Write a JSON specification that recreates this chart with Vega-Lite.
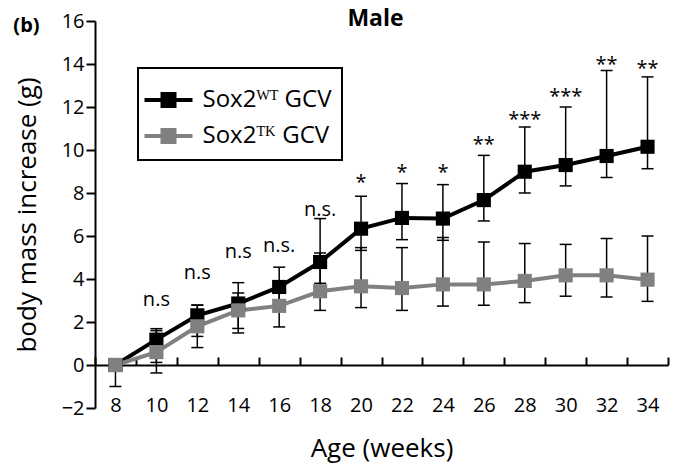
{
  "$schema": "https://vega.github.io/schema/vega-lite/v6.json",
  "width": 573,
  "height": 387,
  "autosize": {"type": "none"},
  "padding": {"left": 95, "top": 21, "right": 9, "bottom": 63},
  "background": "white",
  "title": {"text": "Male", "font": "Open Sans", "fontSize": 23, "fontWeight": "bold", "color": "black", "offset": -38, "baseline": "alphabetic", "dx": -6},
  "config": {
    "view": {"stroke": null},
    "font": "Open Sans",
    "axis": {"labelFont": "Open Sans", "titleFont": "Open Sans", "labelColor": "black", "titleColor": "black", "domainColor": "black", "tickColor": "black", "grid": false, "titleFontWeight": "normal"}
  },
  "datasets": {
    "d": [
      {"week": 8, "series": "Sox2ᵂᵀ GCV", "value": 0, "lo": 0, "hi": 0},
      {"week": 10, "series": "Sox2ᵂᵀ GCV", "value": 1.18, "lo": 0.12, "hi": 1.69},
      {"week": 12, "series": "Sox2ᵂᵀ GCV", "value": 2.31, "lo": 1.33, "hi": 2.78},
      {"week": 14, "series": "Sox2ᵂᵀ GCV", "value": 2.86, "lo": 1.7, "hi": 3.83},
      {"week": 16, "series": "Sox2ᵂᵀ GCV", "value": 3.63, "lo": 2.65, "hi": 4.55},
      {"week": 18, "series": "Sox2ᵂᵀ GCV", "value": 4.79, "lo": 3.8, "hi": 6.81},
      {"week": 20, "series": "Sox2ᵂᵀ GCV", "value": 6.34, "lo": 5.33, "hi": 7.85},
      {"week": 22, "series": "Sox2ᵂᵀ GCV", "value": 6.84, "lo": 5.83, "hi": 8.44},
      {"week": 24, "series": "Sox2ᵂᵀ GCV", "value": 6.81, "lo": 5.8, "hi": 8.39},
      {"week": 26, "series": "Sox2ᵂᵀ GCV", "value": 7.67, "lo": 6.7, "hi": 9.75},
      {"week": 28, "series": "Sox2ᵂᵀ GCV", "value": 8.99, "lo": 8.0, "hi": 11.07},
      {"week": 30, "series": "Sox2ᵂᵀ GCV", "value": 9.3, "lo": 8.33, "hi": 12.0},
      {"week": 32, "series": "Sox2ᵂᵀ GCV", "value": 9.72, "lo": 8.72, "hi": 13.7},
      {"week": 34, "series": "Sox2ᵂᵀ GCV", "value": 10.15, "lo": 9.13, "hi": 13.4},
      {"week": 8, "series": "Sox2ᵀᴷ GCV", "value": 0, "lo": -1.0, "hi": 0},
      {"week": 10, "series": "Sox2ᵀᴷ GCV", "value": 0.6, "lo": -0.37, "hi": 1.6},
      {"week": 12, "series": "Sox2ᵀᴷ GCV", "value": 1.8, "lo": 0.81, "hi": 2.79},
      {"week": 14, "series": "Sox2ᵀᴷ GCV", "value": 2.54, "lo": 1.49, "hi": 3.35},
      {"week": 16, "series": "Sox2ᵀᴷ GCV", "value": 2.75, "lo": 1.77, "hi": 3.6},
      {"week": 18, "series": "Sox2ᵀᴷ GCV", "value": 3.43, "lo": 2.54, "hi": 5.21},
      {"week": 20, "series": "Sox2ᵀᴷ GCV", "value": 3.66, "lo": 2.67, "hi": 5.46},
      {"week": 22, "series": "Sox2ᵀᴷ GCV", "value": 3.58, "lo": 2.54, "hi": 5.46},
      {"week": 24, "series": "Sox2ᵀᴷ GCV", "value": 3.75, "lo": 2.74, "hi": 5.93},
      {"week": 26, "series": "Sox2ᵀᴷ GCV", "value": 3.75, "lo": 2.78, "hi": 5.72},
      {"week": 28, "series": "Sox2ᵀᴷ GCV", "value": 3.91, "lo": 2.9, "hi": 5.65},
      {"week": 30, "series": "Sox2ᵀᴷ GCV", "value": 4.17, "lo": 3.2, "hi": 5.61},
      {"week": 32, "series": "Sox2ᵀᴷ GCV", "value": 4.17, "lo": 3.16, "hi": 5.88},
      {"week": 34, "series": "Sox2ᵀᴷ GCV", "value": 3.97, "lo": 2.96, "hi": 6.0}
    ],
    "sig": [
      {"week": 10, "label": "n.s", "ty": 2.76},
      {"week": 12, "label": "n.s", "ty": 4.0},
      {"week": 14, "label": "n.s", "ty": 4.96},
      {"week": 16, "label": "n.s.", "ty": 5.24},
      {"week": 18, "label": "n.s.", "ty": 6.91},
      {"week": 20, "label": "*", "ty": 8.2},
      {"week": 22, "label": "*", "ty": 8.67},
      {"week": 24, "label": "*", "ty": 8.67},
      {"week": 26, "label": "**", "ty": 9.97},
      {"week": 28, "label": "***", "ty": 11.1},
      {"week": 30, "label": "***", "ty": 12.19},
      {"week": 32, "label": "**", "ty": 13.66},
      {"week": 34, "label": "**", "ty": 13.5}
    ]
  },
  "encoding": {
    "x": {
      "field": "week", "type": "ordinal",
      "scale": {"type": "band", "paddingInner": 0, "paddingOuter": 0},
      "axis": {"title": "Age (weeks)", "labelAngle": 0, "tickBand": "extent", "offset": -43, "tickSize": -8, "tickWidth": 2, "domainWidth": 2, "labelFontSize": 20, "labelPadding": 38, "titleFontSize": 26, "titlePadding": 20}
    }
  },
  "layer": [
    {
      "data": {"name": "d"},
      "mark": {"type": "rule", "color": "black", "strokeWidth": 1.5},
      "encoding": {
        "y": {"field": "lo", "type": "quantitative", "scale": {"domain": [-2, 16], "nice": false, "zero": false},
          "axis": {"title": "body mass increase (g)", "values": [-2, 0, 2, 4, 6, 8, 10, 12, 14, 16], "tickSize": 9, "tickWidth": 2, "domainWidth": 2, "labelFontSize": 20, "labelPadding": 2, "titleFontSize": 26, "titlePadding": 21}},
        "y2": {"field": "hi"}
      }
    },
    {
      "data": {"name": "d"},
      "mark": {"type": "tick", "color": "black", "size": 12, "thickness": 1.5, "opacity": 1},
      "encoding": {"y": {"field": "lo", "type": "quantitative"}}
    },
    {
      "data": {"name": "d"},
      "mark": {"type": "tick", "color": "black", "size": 12, "thickness": 1.5, "opacity": 1},
      "encoding": {"y": {"field": "hi", "type": "quantitative"}}
    },
    {
      "data": {"name": "d"},
      "mark": {"type": "line", "strokeWidth": 4},
      "encoding": {
        "y": {"field": "value", "type": "quantitative"},
        "color": {"field": "series", "type": "nominal", "sort": null,
          "scale": {"domain": ["Sox2ᵂᵀ GCV", "Sox2ᵀᴷ GCV"], "range": ["#000000", "#808080"]},
          "legend": {"title": null, "orient": "none", "legendX": 43, "legendY": 47, "direction": "vertical",
            "symbolType": "M-1.2,0H1.2M-0.3,-0.3H0.3V0.3H-0.3Z", "symbolSize": 1600, "symbolStrokeWidth": 4, "symbolOffset": -1.5,
            "labelFontSize": 24, "labelFont": "Open Sans", "labelColor": "black", "labelOffset": 12, "rowPadding": -7, "padding": 10,
            "strokeColor": "black", "fillColor": "white",
            "symbolFillColor": "black",
            "encode": {"symbols": {"update": {"fill": {"scale": "color", "field": "value"}, "stroke": {"scale": "color", "field": "value"}, "strokeWidth": {"value": 4}}}, "legend": {"update": {"strokeWidth": {"value": 2}}}}}
        }
      }
    },
    {
      "data": {"name": "d"},
      "mark": {"type": "point", "shape": "square", "size": 200, "filled": true, "opacity": 1},
      "encoding": {
        "y": {"field": "value", "type": "quantitative"},
        "color": {"field": "series", "type": "nominal", "sort": null, "legend": null}
      }
    },
    {
      "data": {"name": "sig"},
      "mark": {"type": "text", "fontSize": 20, "font": "Open Sans", "color": "black", "baseline": "alphabetic", "align": "center"},
      "encoding": {
        "y": {"field": "ty", "type": "quantitative"},
        "text": {"field": "label"}
      }
    },
    {
      "data": {"values": [{"lab": "(b)"}]},
      "mark": {"type": "text", "fontSize": 20, "fontWeight": "bold", "font": "Open Sans", "color": "black", "baseline": "alphabetic", "align": "center", "dx": -89, "dy": 11},
      "encoding": {
        "x": {"datum": 8},
        "y": {"datum": 16},
        "text": {"field": "lab"}
      }
    }
  ]
}
